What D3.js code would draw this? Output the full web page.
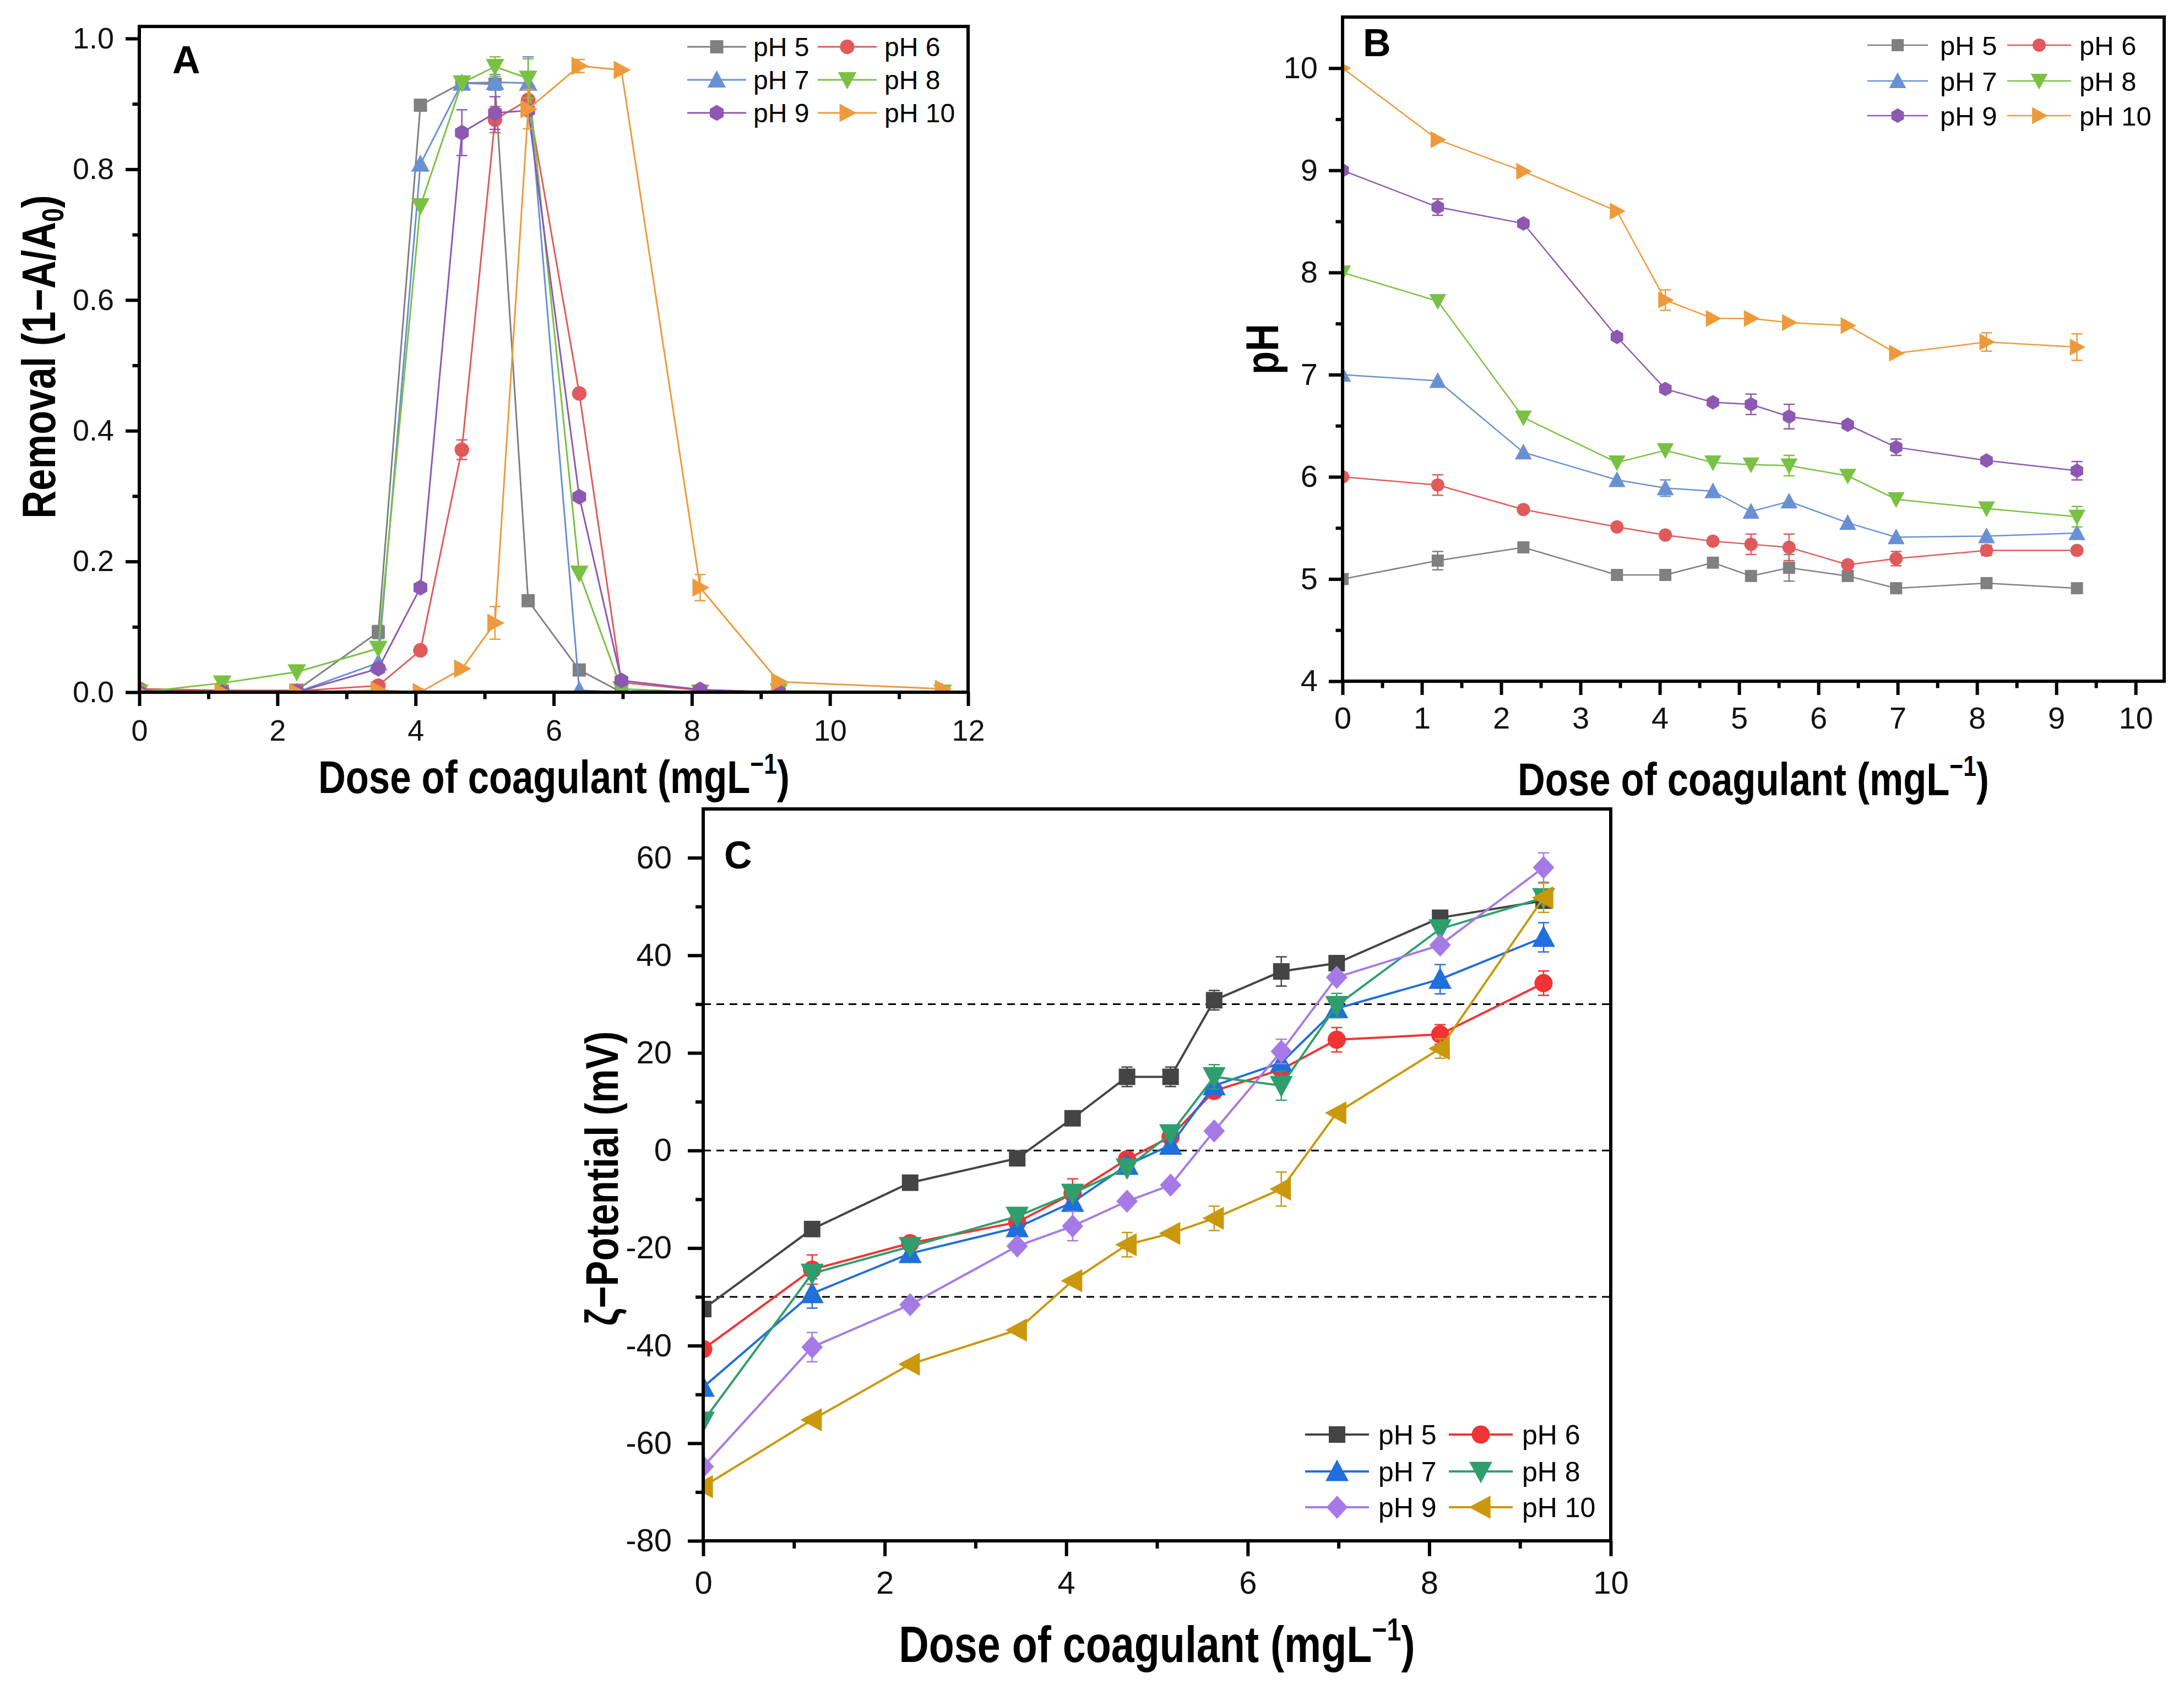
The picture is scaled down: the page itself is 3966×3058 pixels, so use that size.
<!DOCTYPE html>
<html lang="en">
<head>
<meta charset="utf-8">
<title>Dose of coagulant vs pH</title>
<style>
  body { margin: 0; background: #fff; }
  svg { display: block; background: #fff; }
  .frame { fill: none; stroke: #000; stroke-width: 6; }
  .axis path { display: none; }
  .axis line { stroke: #000; stroke-width: 6; }
  .axis text { fill: #111; }
  .title { font-weight: bold; fill: #000; }
  .letter { font-weight: bold; fill: #000; }
</style>
</head>
<body>
<svg id="chart" width="3966" height="3058"></svg>

<script src="https://cdnjs.cloudflare.com/ajax/libs/d3/7.8.5/d3.min.js"></script>
<script>
var FONT = '"Liberation Sans", Arial, sans-serif';

var phLabels = ['pH 5', 'pH 6', 'pH 7', 'pH 8', 'pH 9', 'pH 10'];

// dose of coagulant (mg/L)
var doseA = [0, 1.2, 2.28, 3.46, 4.07, 4.67, 5.15, 5.63, 6.37, 6.98, 8.12, 9.26, 11.63];
var dose  = [0, 1.2, 2.28, 3.46, 4.07, 4.67, 5.15, 5.63, 6.37, 6.98, 8.12, 9.26];

// A - removal (1-A/A0)
var removal5  = [0.003, 0.002, 0.003, 0.092, 0.898, 0.932, 0.930, 0.140, 0.034, 0.000, 0.000, 0.000, 0.000];
var removal6  = [0.005, 0.003, 0.002, 0.010, 0.064, 0.371, 0.876, 0.906, 0.457, 0.015, 0.003, 0.000, 0.000];
var removal7  = [0.000, 0.000, 0.000, 0.045, 0.808, 0.932, 0.933, 0.932, 0.003, 0.000, 0.000, 0.000, 0.000];
var removal8  = [0.000, 0.014, 0.031, 0.067, 0.744, 0.932, 0.957, 0.939, 0.182, 0.005, 0.000, 0.002, 0.000];
var removal9  = [0.000, 0.000, 0.000, 0.036, 0.160, 0.856, 0.886, 0.890, 0.299, 0.018, 0.004, 0.000, 0.000];
var removal10 = [0.000, 0.000, 0.000, 0.003, 0.000, 0.036, 0.106, 0.892, 0.958, 0.952, 0.160, 0.016, 0.005];

var removalErr5  = [0, 0, 0, 0.010, 0, 0, 0, 0, 0, 0, 0, 0, 0];
var removalErr6  = [0, 0, 0, 0, 0, 0.015, 0.020, 0.020, 0, 0, 0, 0, 0];
var removalErr7  = [0, 0, 0, 0, 0, 0, 0.012, 0.040, 0, 0, 0, 0, 0];
var removalErr8  = [0, 0, 0, 0, 0, 0, 0.015, 0.030, 0, 0, 0, 0, 0];
var removalErr9  = [0, 0, 0, 0, 0, 0.035, 0.025, 0, 0, 0, 0, 0, 0];
var removalErr10 = [0, 0, 0, 0, 0, 0, 0.025, 0.030, 0.010, 0, 0.020, 0, 0];

// B - final pH
var finalPH5  = [5.00, 5.18, 5.31, 5.04, 5.04, 5.16, 5.03, 5.11, 5.03, 4.91, 4.96, 4.91];
var finalPH6  = [6.00, 5.92, 5.68, 5.51, 5.43, 5.37, 5.34, 5.31, 5.14, 5.20, 5.28, 5.28];
var finalPH7  = [7.00, 6.94, 6.24, 5.97, 5.89, 5.86, 5.66, 5.76, 5.55, 5.41, 5.42, 5.45];
var finalPH8  = [8.00, 7.72, 6.58, 6.14, 6.26, 6.14, 6.12, 6.11, 6.01, 5.78, 5.69, 5.61];
var finalPH9  = [9.00, 8.64, 8.48, 7.37, 6.86, 6.73, 6.71, 6.59, 6.51, 6.29, 6.16, 6.06];
var finalPH10 = [10.00, 9.30, 8.99, 8.60, 7.73, 7.55, 7.55, 7.51, 7.48, 7.21, 7.32, 7.27];

var finalErr5  = [0, 0.09, 0, 0, 0, 0, 0.05, 0.13, 0, 0, 0, 0];
var finalErr6  = [0, 0.10, 0, 0, 0, 0, 0.10, 0.13, 0, 0.07, 0.05, 0];
var finalErr7  = [0, 0, 0, 0, 0.08, 0, 0, 0, 0, 0, 0, 0];
var finalErr8  = [0, 0, 0, 0, 0, 0, 0, 0.10, 0, 0, 0, 0.10];
var finalErr9  = [0, 0.08, 0, 0, 0, 0, 0.10, 0.12, 0, 0.08, 0, 0.09];
var finalErr10 = [0, 0, 0, 0, 0.10, 0, 0, 0, 0, 0, 0.09, 0.13];

// C - zeta potential (mV)
var zeta5  = [-32.5, -16.1, -6.6, -1.6, 6.6, 15.1, 15.1, 30.8, 36.7, 38.4, 47.7, 51.2];
var zeta6  = [-40.7, -24.4, -19.0, -14.7, -8.8, -1.8, 2.8, 12.2, 16.6, 22.7, 23.8, 34.3];
var zeta7  = [-48.5, -29.3, -21.1, -15.8, -10.6, -3.0, 1.1, 13.3, 18.0, 29.1, 35.1, 43.7];
var zeta8  = [-55.5, -25.2, -19.7, -13.5, -8.8, -3.6, 3.4, 15.1, 13.3, 29.7, 45.4, 51.8];
var zeta9  = [-64.8, -40.3, -31.6, -19.6, -15.5, -10.4, -7.1, 4.0, 20.3, 35.5, 42.1, 58.0];
var zeta10 = [-68.9, -55.2, -43.8, -36.8, -26.7, -19.3, -17.0, -13.9, -7.9, 7.7, 20.9, 51.8];

var zetaErr5  = [0, 0, 0, 0, 0, 2, 2, 2, 3, 0, 1.5, 1.5];
var zetaErr6  = [0, 3, 0, 0, 3, 0, 0, 0, 0, 2.5, 2, 2.5];
var zetaErr7  = [0, 3, 0, 0, 0, 0, 0, 0, 0, 0, 3, 3];
var zetaErr8  = [0, 0, 0, 0, 0, 0, 0, 2.5, 3, 2.5, 0, 0];
var zetaErr9  = [0, 3, 0, 0, 3, 0, 0, 0, 2.5, 0, 0, 3];
var zetaErr10 = [0, 0, 0, 0, 0, 2.5, 0, 2.5, 3.5, 0, 2, 3];

var colorsAB = ['#808080', '#e05a5c', '#6a90d4', '#7ac143', '#8d58b1', '#ee9a3c'];
var colorsC  = ['#444444', '#f03434', '#1f6fdc', '#2f9e6e', '#a67ae6', '#c9980c'];
var shapesAB = ['square', 'circle', 'up', 'down', 'hexagon', 'right'];
var shapesC  = ['square', 'circle', 'up', 'down', 'diamond', 'left'];

var svg = d3.select('#chart');

function poly(pts) {
    return 'M' + pts.map(function(p) { return p[0].toFixed(1) + ',' + p[1].toFixed(1); }).join('L') + 'Z';
}

// marker outline centred on 0,0
function markerPath(type, s) {
    var w = 1.4 * s, h = 2.6 * s, r = 1.1 * s;
    switch (type) {
        case 'square': return poly([[-s, -s], [s, -s], [s, s], [-s, s]]);
        case 'circle': return 'M' + r + ',0A' + r + ',' + r + ' 0 1,1 ' + (-r) + ',0A' + r + ',' + r + ' 0 1,1 ' + r + ',0Z';
        case 'up':    return poly([[0, -0.55 * h], [w, 0.45 * h], [-w, 0.45 * h]]);
        case 'down':  return poly([[0, 0.55 * h], [w, -0.45 * h], [-w, -0.45 * h]]);
        case 'right': return poly([[0.55 * h, 0], [-0.45 * h, -w], [-0.45 * h, w]]);
        case 'left':  return poly([[-0.55 * h, 0], [0.45 * h, -w], [0.45 * h, w]]);
        case 'diamond': return poly([[0, -1.4 * s], [1.3 * s, 0], [0, 1.4 * s], [-1.3 * s, 0]]);
        case 'hexagon':
            return poly(d3.range(6).map(function(k) {
                var a = (-90 + 60 * k) * Math.PI / 180;
                return [1.2 * s * Math.cos(a), 1.2 * s * Math.sin(a)];
            }));
    }
}

function doseTitle(g, cx, baseline, size) {
    var t = g.append('text').attr('class', 'title')
        .attr('transform', 'translate(' + cx + ',' + baseline + ') scale(0.82,1)')
        .attr('text-anchor', 'middle').attr('font-size', size);
    t.append('tspan').text('Dose of coagulant (mgL');
    t.append('tspan').attr('dy', -0.42 * size).attr('font-size', size * 0.62).text('\u22121');
    t.append('tspan').attr('dy', 0.42 * size).text(')');
}

function drawPanel(cfg) {
    var x = d3.scaleLinear().domain(cfg.xDomain).range([cfg.left, cfg.right]);
    var y = d3.scaleLinear().domain(cfg.yDomain).range([cfg.bottom, cfg.top]);
    var g = svg.append('g').attr('font-family', FONT);

    // clip data to the plot box
    g.append('clipPath').attr('id', cfg.id + '-clip')
        .append('rect')
        .attr('x', cfg.left).attr('y', cfg.top)
        .attr('width', cfg.right - cfg.left).attr('height', cfg.bottom - cfg.top);

    var plot = g.append('g').attr('clip-path', 'url(#' + cfg.id + '-clip)');

    // dashed reference lines
    plot.selectAll('.ref').data(cfg.refLines || []).enter().append('line')
        .attr('x1', cfg.left).attr('x2', cfg.right)
        .attr('y1', function(d) { return y(d); }).attr('y2', function(d) { return y(d); })
        .attr('stroke', '#000').attr('stroke-width', 3).attr('stroke-dasharray', '14,10');

    var line = d3.line().x(function(d) { return x(d.x); }).y(function(d) { return y(d.y); });

    cfg.series.forEach(function(s) {
        var pts = s.x.map(function(d, j) { return {x: d, y: s.y[j], e: s.err[j]}; });
        var sg = plot.append('g');
        sg.append('path').datum(pts)
            .attr('fill', 'none').attr('stroke', s.color).attr('stroke-width', cfg.lineWidth)
            .attr('d', line);

        var eb = sg.selectAll('.err').data(pts.filter(function(d) { return d.e > 0; }))
            .enter().append('g').attr('stroke', s.color).attr('stroke-width', 2.5);
        eb.append('line')
            .attr('x1', function(d) { return x(d.x); }).attr('x2', function(d) { return x(d.x); })
            .attr('y1', function(d) { return y(d.y - d.e); }).attr('y2', function(d) { return y(d.y + d.e); });
        [-1, 1].forEach(function(sign) {
            eb.append('line')
                .attr('x1', function(d) { return x(d.x) - 10; }).attr('x2', function(d) { return x(d.x) + 10; })
                .attr('y1', function(d) { return y(d.y + sign * d.e); }).attr('y2', function(d) { return y(d.y + sign * d.e); });
        });

        sg.selectAll('.pt').data(pts).enter().append('path')
            .attr('transform', function(d) { return 'translate(' + x(d.x) + ',' + y(d.y) + ')'; })
            .attr('d', markerPath(s.shape, cfg.markerSize))
            .attr('fill', s.color);
    });

    // axes
    function axisG(call, tx, ty) {
        return g.append('g').attr('class', 'axis')
            .attr('transform', 'translate(' + tx + ',' + ty + ')')
            .call(call)
            .attr('font-family', FONT).attr('font-size', cfg.tickFont);
    }
    axisG(d3.axisBottom(x).tickValues(cfg.xMinor).tickSize(cfg.tick / 2).tickSizeOuter(0).tickFormat(''), 0, cfg.bottom);
    axisG(d3.axisBottom(x).tickValues(cfg.xTicks).tickSize(cfg.tick).tickSizeOuter(0)
        .tickPadding(cfg.padX).tickFormat(cfg.xFormat), 0, cfg.bottom);
    axisG(d3.axisLeft(y).tickValues(cfg.yMinor).tickSize(cfg.tick / 2).tickSizeOuter(0).tickFormat(''), cfg.left, 0);
    axisG(d3.axisLeft(y).tickValues(cfg.yTicks).tickSize(cfg.tick).tickSizeOuter(0)
        .tickPadding(cfg.padY).tickFormat(cfg.yFormat), cfg.left, 0);

    g.append('rect').attr('class', 'frame')
        .attr('x', cfg.left).attr('y', cfg.top)
        .attr('width', cfg.right - cfg.left).attr('height', cfg.bottom - cfg.top);

    // panel letter
    g.append('text').attr('class', 'letter')
        .attr('x', cfg.letter.x).attr('y', cfg.letter.y)
        .attr('font-size', 70).text(cfg.letter.text);

    // legend, two columns
    var lg = g.append('g').attr('font-size', cfg.legend.font);
    cfg.series.forEach(function(s, i) {
        var col = cfg.legend.cols[i % 2], ry = cfg.legend.rows[Math.floor(i / 2)];
        lg.append('line').attr('x1', col[0]).attr('x2', col[1]).attr('y1', ry).attr('y2', ry)
            .attr('stroke', s.color).attr('stroke-width', cfg.lineWidth);
        lg.append('path').attr('transform', 'translate(' + (col[0] + col[1]) / 2 + ',' + ry + ')')
            .attr('d', markerPath(s.shape, cfg.markerSize)).attr('fill', s.color);
        lg.append('text').attr('x', col[2]).attr('y', ry).attr('dy', '0.36em')
            .attr('fill', '#000').text(s.label);
    });

    return g;
}

function buildSeries(xs, ys, errs, colors, shapes) {
    return ys.map(function(v, i) {
        return {label: phLabels[i], x: xs, y: v, err: errs[i], color: colors[i], shape: shapes[i]};
    });
}

// ---------- A ----------
var gA = drawPanel({
    id: 'pa', left: 253, right: 1758, top: 48, bottom: 1257,
    xDomain: [0, 12], yDomain: [0, 1.0185],
    xTicks: d3.range(0, 13, 2), xMinor: d3.range(1, 12, 2),
    yTicks: [0, 0.2, 0.4, 0.6, 0.8, 1.0], yMinor: [0.1, 0.3, 0.5, 0.7, 0.9],
    xFormat: d3.format('d'), yFormat: d3.format('.1f'),
    tick: 25, padX: 25, padY: 21, tickFont: 54, markerSize: 12, lineWidth: 3,
    letter: {text: 'A', x: 313, y: 133},
    legend: {cols: [[1248, 1355, 1368], [1485, 1592, 1606]], rows: [85, 145, 205], font: 48},
    series: buildSeries(doseA,
        [removal5, removal6, removal7, removal8, removal9, removal10],
        [removalErr5, removalErr6, removalErr7, removalErr8, removalErr9, removalErr10],
        colorsAB, shapesAB)
});
doseTitle(gA, 1006, 1440, 84);
var tA = gA.append('text').attr('class', 'title')
    .attr('transform', 'translate(100,648) rotate(-90) scale(0.82,1)')
    .attr('text-anchor', 'middle').attr('font-size', 86);
tA.append('tspan').text('Removal (1\u2212A/A');
tA.append('tspan').attr('dy', 15).attr('font-size', 55).text('0');
tA.append('tspan').attr('dy', -15).text(')');

// ---------- B ----------
var gB = drawPanel({
    id: 'pb', left: 2438, right: 3930, top: 31, bottom: 1237,
    xDomain: [0, 10.36], yDomain: [4, 10.5],
    xTicks: d3.range(0, 11, 1), xMinor: d3.range(0.5, 10.4, 1),
    yTicks: d3.range(4, 11, 1), yMinor: d3.range(4.5, 10, 1),
    xFormat: d3.format('d'), yFormat: d3.format('d'),
    tick: 25, padX: 21, padY: 20, tickFont: 56, markerSize: 11, lineWidth: 2.5,
    letter: {text: 'B', x: 2475, y: 102},
    legend: {cols: [[3391, 3501, 3523], [3645, 3761, 3776]], rows: [82, 147, 210], font: 49},
    series: buildSeries(dose,
        [finalPH5, finalPH6, finalPH7, finalPH8, finalPH9, finalPH10],
        [finalErr5, finalErr6, finalErr7, finalErr8, finalErr9, finalErr10],
        colorsAB, shapesAB)
});
doseTitle(gB, 3184, 1444, 84);
gB.append('text').attr('class', 'title')
    .attr('transform', 'translate(2321,634) rotate(-90) scale(0.82,1)')
    .attr('text-anchor', 'middle').attr('font-size', 84).text('pH');

// ---------- C ----------
var gC = drawPanel({
    id: 'pc', left: 1277, right: 2925, top: 1469, bottom: 2798,
    xDomain: [0, 10], yDomain: [-80, 70],
    xTicks: d3.range(0, 11, 2), xMinor: d3.range(1, 10, 2),
    yTicks: d3.range(-80, 61, 20), yMinor: d3.range(-70, 51, 20),
    xFormat: d3.format('d'), yFormat: function(d) { return String(d); },
    tick: 28, padX: 27, padY: 29, tickFont: 58, markerSize: 15, lineWidth: 4,
    refLines: [30, 0, -30],
    letter: {text: 'C', x: 1315, y: 1577},
    legend: {cols: [[2370, 2486, 2503], [2631, 2747, 2764]], rows: [2605, 2672, 2737], font: 50},
    series: buildSeries(dose,
        [zeta5, zeta6, zeta7, zeta8, zeta9, zeta10],
        [zetaErr5, zetaErr6, zetaErr7, zetaErr8, zetaErr9, zetaErr10],
        colorsC, shapesC)
});
doseTitle(gC, 2101, 3018, 92);
gC.append('text').attr('class', 'title')
    .attr('transform', 'translate(1122,2140) rotate(-90) scale(0.82,1)')
    .attr('text-anchor', 'middle').attr('font-size', 84).text('\u03b6\u2212Potential (mV)');
</script>
</body>
</html>
